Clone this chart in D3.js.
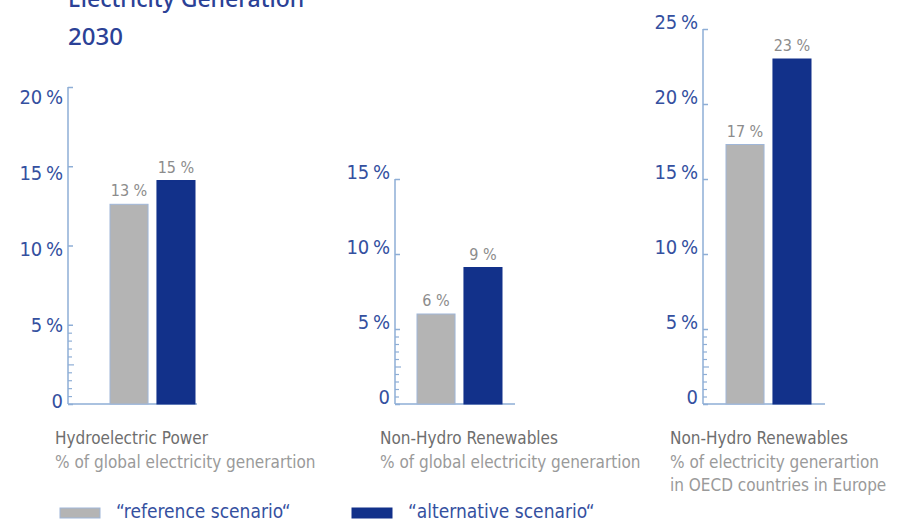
<!DOCTYPE html>
<html><head><meta charset="utf-8">
<script src="https://cdn.jsdelivr.net/npm/d3@7"></script>
<style>
body{margin:0;background:#fff;}
svg{display:block;}
.cond{font-family:"Liberation Sans Narrow","Arial Narrow","DejaVu Sans Condensed","Roboto Condensed",Roboto,sans-serif;}
</style>
</head><body>
<svg id="chart" width="906" height="523"></svg>
<script>
// ---- data ----
const panelTitles = ["Hydroelectric Power", "Non-Hydro Renewables", "Non-Hydro Renewables"];
const panelSubtitles = [
  ["% of global electricity generartion"],
  ["% of global electricity generartion"],
  ["% of electricity generartion", "in OECD countries in Europe"]
];
const seriesNames = ["“reference scenario“", "“alternative scenario“"];
const referenceValues = [12.6, 6.0, 17.3];
const alternativeValues = [14.1, 9.1, 23.0];
const referenceLabels = ["13 %", "6 %", "17 %"];
const alternativeLabels = ["15 %", "9 %", "23 %"];
const axisMax = [20, 15, 25];
const majorTicks = [[0,5,10,15,20],[0,5,10,15],[0,5,10,15,20,25]];
const minorTicks = [0.5,1,1.5,2,2.5,3,3.5,4,4.5];

// ---- layout ----
const svg = d3.select("#chart");
const BLUE = "#12318a", GREY = "#b4b4b4", AXIS = "#8eaed6", TEXTBLUE = "#34509f";
const baseY = 404;
const layout = [
  {axisX: 68, topY: 87, barStart: 110, endX: 197, labelRange: [401, 97]},
  {axisX: 395, topY: 179, barStart: 417, endX: 515, labelRange: [397, 172]},
  {axisX: 703, topY: 29, barStart: 726, endX: 825, labelRange: [397, 22]}
];

svg.append("text").attr("x", 68).attr("y", 7)
  .attr("font-family", "'Noto Sans',sans-serif").attr("font-weight", 500)
  .attr("font-size", 23).attr("fill", "#2b4196").text("Electricity Generation");
svg.append("text").attr("x", 68).attr("y", 45)
  .attr("font-family", "'Noto Sans',sans-serif").attr("font-weight", 500)
  .attr("font-size", 24).attr("fill", "#2b4196").text("2030");

const series = ["ref", "alt"];
panelTitles.forEach((t, i) => {
  const L = layout[i];
  const y = d3.scaleLinear().domain([0, axisMax[i]]).range([baseY, L.topY]);
  const yl = d3.scaleLinear().domain([0, axisMax[i]]).range(L.labelRange);
  const x = d3.scaleBand().domain(series).range([L.barStart, L.barStart + 85]).paddingInner(0.19);
  const g = svg.append("g");

  // axis
  const ax = d3.axisRight(y).tickValues(majorTicks[i]).tickSize(5).tickFormat("");
  const axG = g.append("g").attr("transform", `translate(${L.axisX},0)`).call(ax);
  axG.select(".domain").remove();
  axG.selectAll(".tick line").attr("stroke", AXIS).attr("stroke-width", 1.5);
  const mn = d3.axisRight(y).tickValues(minorTicks).tickSize(4).tickFormat("");
  const mnG = g.append("g").attr("transform", `translate(${L.axisX},0)`).call(mn);
  mnG.select(".domain").remove();
  mnG.selectAll(".tick line").attr("stroke", AXIS).attr("stroke-width", 1.2)
     .attr("x2", d => d === 2.5 ? 6 : 4);
  g.append("line").attr("x1", L.axisX).attr("x2", L.axisX)
    .attr("y1", y(axisMax[i])).attr("y2", baseY).attr("stroke", AXIS).attr("stroke-width", 1.5);
  g.append("line").attr("x1", L.axisX).attr("x2", L.endX)
    .attr("y1", baseY).attr("y2", baseY).attr("stroke", AXIS).attr("stroke-width", 1.5);

  // tick labels
  g.selectAll(".tl").data(majorTicks[i]).join("text")
    .attr("class", "cond")
    .attr("x", L.axisX - 5).attr("y", d => yl(d))
    .attr("dy", "0.35em").attr("text-anchor", "end")
    .attr("font-size", 20).attr("fill", TEXTBLUE)
    .text(d => d === 0 ? "0" : d + "\u2009%");

  // bars
  const vals = [referenceValues[i], alternativeValues[i]];
  const labs = [referenceLabels[i], alternativeLabels[i]];
  g.selectAll(".bar").data(series).join("rect")
    .attr("x", s => x(s)).attr("width", x.bandwidth())
    .attr("y", (s, k) => y(vals[k])).attr("height", (s, k) => baseY - y(vals[k]))
    .attr("fill", s => s === "ref" ? GREY : BLUE)
    .attr("stroke", s => s === "ref" ? "#9fb6d8" : BLUE).attr("stroke-width", 1);
  g.selectAll(".vl").data(series).join("text")
    .attr("class", "cond")
    .attr("x", s => x(s) + x.bandwidth() / 2).attr("y", (s, k) => y(vals[k]) - 8)
    .attr("text-anchor", "middle").attr("font-size", 16).attr("fill", "#8c8c8c")
    .text((s, k) => labs[k]);

  // category labels
  const lx = [55, 380, 670][i];
  g.append("text").attr("class", "cond").attr("x", lx).attr("y", 444)
    .attr("font-size", 17).attr("fill", "#6e6e6e").text(t);
  panelSubtitles[i].forEach((s, k) => {
    g.append("text").attr("class", "cond").attr("x", lx).attr("y", 468 + k * 23)
      .attr("font-size", 17).attr("fill", "#9a9a9a").text(s);
  });
});

// legend
const legX = [60, 352];
seriesNames.forEach((n, k) => {
  svg.append("rect").attr("x", legX[k]).attr("y", 508).attr("width", 40).attr("height", 10)
    .attr("fill", k === 0 ? GREY : BLUE).attr("stroke", k === 0 ? "#9fb6d8" : BLUE);
  svg.append("text").attr("class", "cond").attr("x", legX[k] + 56).attr("y", 518)
    .attr("font-size", 19).attr("fill", TEXTBLUE).text(n);
});
</script>
</body></html>
